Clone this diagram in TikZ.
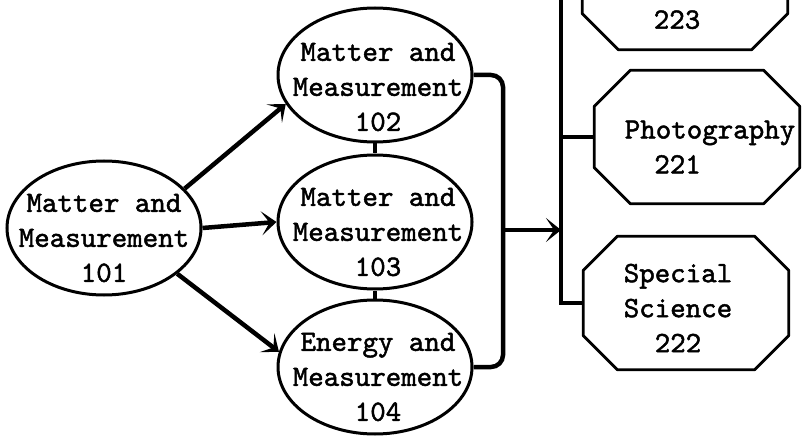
\documentclass[tikz,border=0pt]{standalone}
\usetikzlibrary{shapes.geometric,arrows.meta,calc}

% heavier typewriter face for all labels
\font\typewfont="[lmmono10-regular.otf]:embolden=1.6" at 29.5pt

% octagonal box drawn from the corners of a named rectangle node
\newcommand\octagonbox[2]{%
  \draw[boxline] ($(#1.north west)+(#2,0)$) -- ($(#1.north east)+(-#2,0)$)
    -- ($(#1.north east)+(0,#2)$) -- ($(#1.south east)+(0,-#2)$)
    -- ($(#1.south east)+(-#2,0)$) -- ($(#1.south west)+(#2,0)$)
    -- ($(#1.south west)+(0,-#2)$) -- ($(#1.north west)+(0,#2)$) -- cycle;}

\begin{document}
\begin{tikzpicture}[x=1pt,y=-1pt,
  ell/.style={draw, ellipse, line width=3pt, minimum width=194pt,
    minimum height=134pt, inner sep=0pt},
  tt/.style={font={\typewfont\baselineskip=35pt}, align=center,
    inner sep=0pt},
  boxline/.style={line width=2.8pt, line join=round},
  octo/.style={rectangle, minimum width=205pt, minimum height=133pt,
    inner sep=0pt},
  conn/.style={line width=4.5pt},
  arr/.style={conn, -{Stealth[length=15pt,width=24pt,inset=8pt]}},
  ]
\clip (0,0) rectangle (802,438);
\fill[white] (0,0) rectangle (802,438);

% course ellipses
\node[ell] (m101) at (104,228) {};
\node[ell] (m102) at (375,75) {};
\node[ell] (m103) at (375,222) {};
\node[ell] (m104) at (375,367) {};

\node[tt] (t101) at ($(m101)+(0,10)$) {Matter and\\Measurement\\101};
\node[tt] (t102) at ($(m102)+(3,12)$) {Matter and\\Measurement\\102};
\node[tt] (t103) at ($(m103)+(3,10)$) {Matter and\\Measurement\\103};
\node[tt] (t104) at ($(m104)+(3,10)$) {Energy and\\Measurement\\104};

% octagonal boxes
\node[octo] (b223) at (685,-17) {};
\node[octo] (ph) at (697,137) {};
\node[octo] (ss) at (686,303) {};
\octagonbox{b223}{36}
\octagonbox{ph}{36}
\octagonbox{ss}{34}

\node[tt] (t223) at ($(b223.south)+(-8,-30)$) {223};
\node[tt] (tph) at ($(ph)+(13,10)$) {Photography\\\hspace*{-2.2em}221};
\node[tt] (tss) at ($(ss)+(-8,5)$) {Special\\Science\\222};

% arrows out of 101
\draw[arr] (m101.26) -- (m102.198);
\draw[arr] (m101.east) -- (m103.west);
\draw[arr] (m101.-32) -- (m104.171);

% links between the stacked ellipses
\draw[conn] (m102.south) -- (m103.north);
\draw[conn] (m103.south) -- (m104.north);

% bracket joining 102-104 and the arrow into the bus
\coordinate (jn) at (503,230);
\coordinate (bus) at (561,230);
\coordinate (bustop) at (561,-5);
\draw[conn, rounded corners=12pt] (m102.east) -| (jn) |- (m104.east);
\draw[arr] (jn) -- (bus);

% vertical bus with its branches
\draw[conn] (bustop) |- (ss.west);
\draw[conn] (ph.west -| bustop) -- (ph.west);
\end{tikzpicture}
\end{document}
